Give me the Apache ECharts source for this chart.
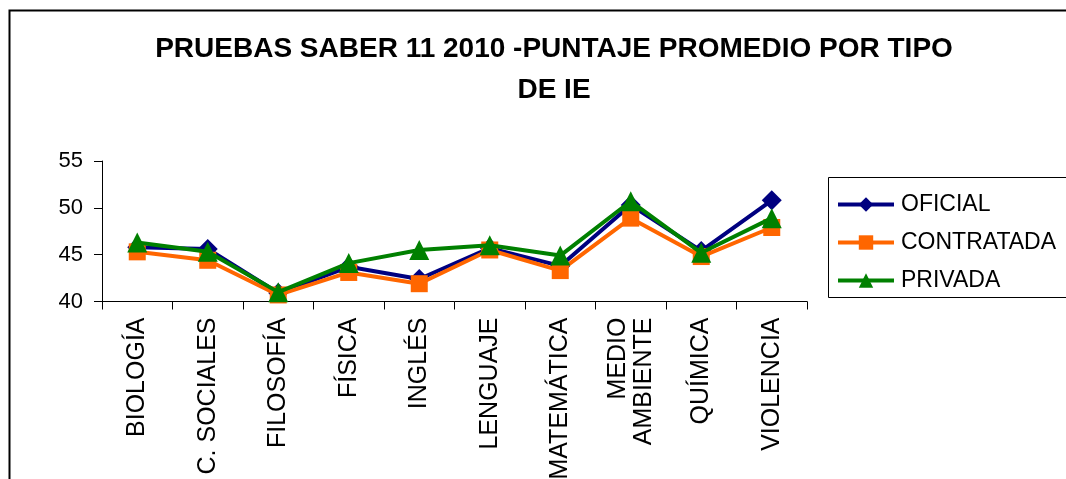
<!DOCTYPE html>
<html>
<head>
<meta charset="utf-8">
<script src="https://cdn.jsdelivr.net/npm/echarts@6/dist/echarts.min.js"></script>
<style>
html,body{margin:0;padding:0;background:#fff;}
#chart{width:1066px;height:479px;}
</style>
</head>
<body>
<div id="chart"></div>
<script>
var categories = ['BIOLOGÍA', 'C. SOCIALES', 'FILOSOFÍA', 'FÍSICA', 'INGLÉS', 'LENGUAJE', 'MATEMÁTICA', 'MEDIO\nAMBIENTE', 'QUÍMICA', 'VIOLENCIA'];
var oficial = [45.8, 45.6, 40.9, 43.7, 42.4, 45.7, 43.8, 50.3, 45.4, 50.8];
var contratada = [45.3, 44.4, 40.7, 43.1, 41.9, 45.5, 43.3, 48.9, 44.8, 47.9];
var privada = [46.3, 45.3, 41.0, 44.1, 45.5, 46.0, 44.9, 50.7, 45.2, 48.9];
var titleText = 'PRUEBAS SABER 11 2010 -PUNTAJE PROMEDIO POR TIPO\nDE IE';

var FONT = '"Liberation Sans", Arial, sans-serif';
var chart = echarts.init(document.getElementById('chart'), null, {renderer: 'canvas'});

function legendFor(name, top) {
  return {
    data: [name],
    left: 836,
    top: top,
    padding: 0,
    itemWidth: 56,
    itemHeight: 18,
    itemGap: 0,
    lineStyle: {width: 4},
    textStyle: {fontFamily: FONT, fontSize: 23, color: '#000', lineHeight: 18, padding: [0, 0, 0, 2]},
    selectedMode: false
  };
}

chart.setOption({
  animation: false,
  backgroundColor: '#fff',
  title: {
    text: titleText,
    left: 549,
    top: 24,
    textAlign: 'center',
    textStyle: {fontFamily: FONT, fontSize: 28, fontWeight: 'bold', color: '#000', lineHeight: 41}
  },
  graphic: [
    {type: 'rect', shape: {x: 9.5, y: 10.5, width: 1100, height: 500}, style: {fill: 'none', stroke: '#000', lineWidth: 2}, z: -1},
    {type: 'rect', shape: {x: 828.5, y: 177.5, width: 300, height: 120}, style: {fill: '#fff', stroke: '#000', lineWidth: 1}, z: 0}
  ],
  legend: [
    legendFor('OFICIAL', 193),
    legendFor('CONTRATADA', 231),
    legendFor('PRIVADA', 269)
  ],
  grid: {left: 102, right: 259, top: 161, bottom: 177.5, containLabel: false, outerBoundsMode: 'none'},
  xAxis: {
    type: 'category',
    data: categories,
    boundaryGap: true,
    axisLine: {lineStyle: {color: '#000', width: 1}},
    axisTick: {show: true, length: 8, inside: false, lineStyle: {color: '#000'}},
    axisLabel: {rotate: 90, interval: 0, margin: 16, fontFamily: FONT, fontSize: 25, color: '#000', lineHeight: 26}
  },
  yAxis: {
    type: 'value',
    min: 40,
    max: 55,
    interval: 5,
    axisLine: {show: true, lineStyle: {color: '#000', width: 1}},
    axisTick: {show: true, length: 8, lineStyle: {color: '#000'}},
    splitLine: {show: false},
    axisLabel: {margin: 19, fontFamily: FONT, fontSize: 22, color: '#000'}
  },
  series: [
    {name: 'OFICIAL', type: 'line', data: oficial, symbol: 'diamond', symbolSize: 20,
      lineStyle: {color: '#000080', width: 4}, itemStyle: {color: '#000080'}, z: 2},
    {name: 'CONTRATADA', type: 'line', data: contratada, symbol: 'rect', symbolSize: 17,
      lineStyle: {color: '#FF6600', width: 4}, itemStyle: {color: '#FF6600'}, z: 3},
    {name: 'PRIVADA', type: 'line', data: privada, symbol: 'triangle', symbolSize: 20,
      lineStyle: {color: '#008000', width: 4}, itemStyle: {color: '#008000'}, z: 4}
  ]
});
</script>
</body>
</html>
